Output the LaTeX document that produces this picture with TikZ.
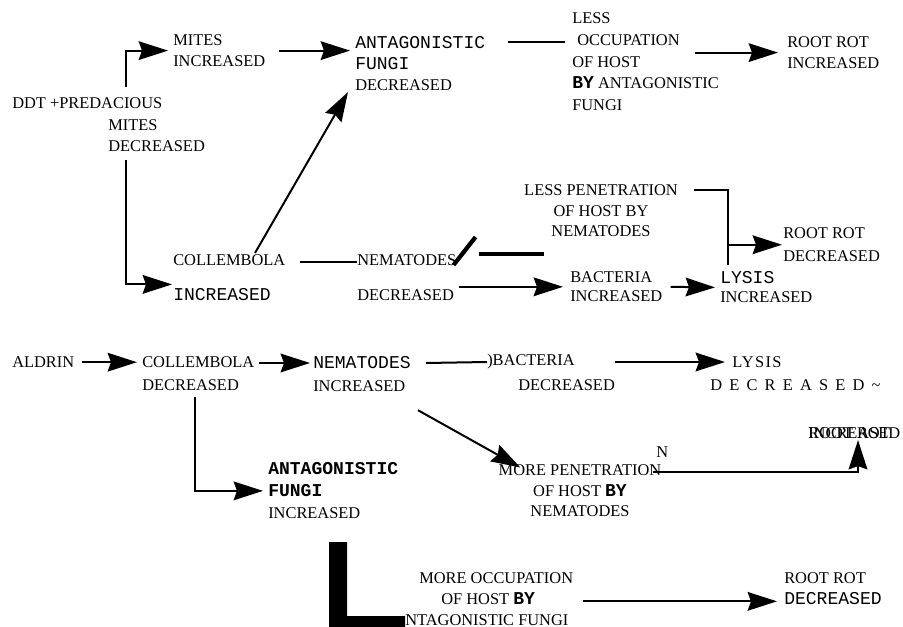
\documentclass[tikz,border=0pt]{standalone}
\usepackage{fontspec}
\setmainfont{Liberation Serif}
\setmonofont[Scale=1.1]{Liberation Mono}
\usetikzlibrary{arrows.meta,calc}
\newcommand{\typew}[1]{{\ttfamily #1}}
\tikzset{
  txt/.style={inner sep=0pt, anchor=north west, align=left, font=\fontsize{12.3}{15.5}\selectfont},
  ctxt/.style={txt, anchor=north, align=center},
  arr/.style={line width=1.5pt, -{Stealth[length=22pt,width=14pt,inset=2.5pt]}},
  ln/.style={line width=1.5pt},
}
\begin{document}
\begin{tikzpicture}[x=0.75pt,y=-0.75pt]
		\useasboundingbox (0,0) rectangle (903,627);
		
		%%%%% DDT %%%%%
		\node[txt] (ddt) at (12,97.5) {DDT +PREDACIOUS};
		\node[txt] (ddtdec) at (108,119.5) {MITES\\DECREASED};
		\node[txt] (mitesinc) at (173,34.5) {MITES\\INCREASED};
		\node[txt] (antdec) at (355,36.5) {\typew{ANTAGONISTIC}\\\typew{FUNGI}\\DECREASED};
		\node[txt, font=\fontsize{12.3}{16.3}\selectfont] (lessocc) at (572,12.5) {LESS\\\hspace*{3.75pt}OCCUPATION\\OF HOST\\\typew{\bfseries BY} ANTAGONISTIC\\FUNGI};
		\node[txt] (rrinc) at (787,36.5) {ROOT ROT\\INCREASED};
		
		\node[txt] (colinc) at (173,254.5) {COLLEMBOLA\\[11pt]\typew{INCREASED}};
		\node[txt] (nemdec) at (357,254.5) {NEMATODES\\[11pt]DECREASED};
		\node[ctxt] (lesspen) at (601,184.5) {LESS PENETRATION\\OF HOST BY\\NEMATODES};
		\node[txt, font=\fontsize{12.3}{17.2}\selectfont] (rrdec) at (783,227.5) {ROOT ROT\\DECREASED};
		\node[txt] (bacinc) at (570,271.5) {BACTERIA\\[-1.2pt]INCREASED};
		\node[txt] (lysinc) at (720,271.5) {\typew{LYSIS}\\[-1.2pt]INCREASED};
		
		\coordinate (ddttop) at (126,87);
		\coordinate (ddtbot) at (126,160);
		\draw[arr] (ddttop) |- ($(mitesinc.west)+(-5,0)$);
		\draw[arr] (ddtbot) |- ($(colinc.south west)+(-1,-17)$);
		\draw[arr] ($(mitesinc.east)+(13,0)$) -- ($(antdec.west |- mitesinc.east)+(-5,0)$);
		\draw[arr] ($(colinc.north west)+(82,-1.5)$) -- ($(antdec.south west)+(-7,1.5)$);
		\draw[ln] ($(antdec.north east)+(23,5.5)$) -- ($(lessocc.north west)+(-7,29.5)$);
		\draw[arr] ($(lessocc.north west |- rrinc.west)+(123,0)$) -- ($(rrinc.west)+(-9,0)$);
		
		\draw[ln] ($(colinc.north east)+(14,7.5)$) -- ($(nemdec.north west)+(0,7.5)$);
		\draw[line width=3.2pt] ($(nemdec.north east)+(-3,10.5)$) -- ($(nemdec.north east)+(19,-17.5)$);
		\draw[line width=3pt] ($(nemdec.north east)+(22,-0.5)$) -- ($(nemdec.north east)+(87,-0.5)$);
		\draw[arr] ($(nemdec.east |- bacinc.west)+(2,0)$) -- ($(bacinc.west)+(-7,0)$);
		\draw[arr] ($(bacinc.east)+(8,0)$) -- ($(lysinc.west)+(-5,0)$);
		\draw[ln] ($(lesspen.north east)+(16,5.5)$) -| ($(lysinc.north west)+(8,-6.5)$);
		\draw[arr] ($(rrdec.west)+(-55,0)$) -- ($(rrdec.west)+(-1,0)$);
		
		%%%%% ALDRIN %%%%%
		\node[txt] (aldrin) at (12,356.5) {ALDRIN};
		\node[txt, font=\fontsize{12.3}{17.2}\selectfont] (coldec) at (142,356.5) {COLLEMBOLA\\DECREASED};
		\node[txt, font=\fontsize{12.3}{17.2}\selectfont] (neminc) at (313,356.5) {\typew{NEMATODES}\\INCREASED};
		\node[txt, anchor=west] (bacdec) at (487,362) {)BACTERIA};
		\node[txt, anchor=west] (bacdecb) at (518,385) {DECREASED};
		\node[txt, anchor=west, font=\fontsize{12.3}{15.5}\selectfont\addfontfeatures{LetterSpace=8}] (lysdec) at (732,362) {LYSIS};
		\node[txt, anchor=west] (lysdecb) at (710,385) {\spaceskip=5.4pt\relax D E C R E A S E D \textasciitilde};
		\node[txt] (rrinca) at (808,427.5) {ROOT ROT};
		\node[txt] (rrincb) at (808,427.5) {INCREASED};
		\node[txt] (nmark) at (656,446.5) {N};
		\node[ctxt] (morepen) at (580,464.5) {MORE PENETRATION\\OF HOST \typew{\bfseries BY}\\NEMATODES};
		\node[txt, font=\fontsize{12.3}{16.5}\selectfont] (antinc) at (268,462.5) {\typew{\bfseries ANTAGONISTIC}\\\typew{\bfseries FUNGI}\\INCREASED};
		\node[txt, font=\fontsize{12.3}{15.8}\selectfont] (moreocc) at (405,572.5) {\hspace*{10.5pt}MORE OCCUPATION\\\hspace*{27pt}OF HOST \typew{\bfseries BY}\\NTAGONISTIC FUNGI};
		\node[txt] (rrdecb) at (784,572.5) {ROOT ROT\\\typew{DECREASED}};
		
		\draw[arr] ($(aldrin.east)+(8,0)$) -- ($(coldec.west |- aldrin.east)+(-5,0)$);
		\draw[arr] ($(coldec.north east)+(4,6.5)$) -- ($(neminc.north west)+(-3,6.5)$);
		\draw[ln] ($(neminc.north east)+(15,6.5)$) -- (bacdec.west);
		\draw[arr] ($(bacdec.east)+(40,0)$) -- ($(lysdec.west)+(-7,0)$);
		\draw[arr] ($(coldec.south west)+(53,6)$) |- ($(antinc.west)+(-5,0)$);
		\draw[arr] ($(neminc.south east)+(7,18)$) -- ($(morepen.north west)+(22,3)$);
		\draw[arr] ($(morepen.north east)+(-9,7.5)$) -| ($(rrincb.south west)+(50,1)$);
		\draw[arr] ($(moreocc.east)+(10,2)$) -- ($(moreocc.east -| rrdecb.west)+(-7,2)$);
		
		\fill (329,542) -- (347,542) -- (347,616) -- (405,616) -- (405,627) -- (329,627) -- cycle;
		
	\end{tikzpicture}
\end{document}
